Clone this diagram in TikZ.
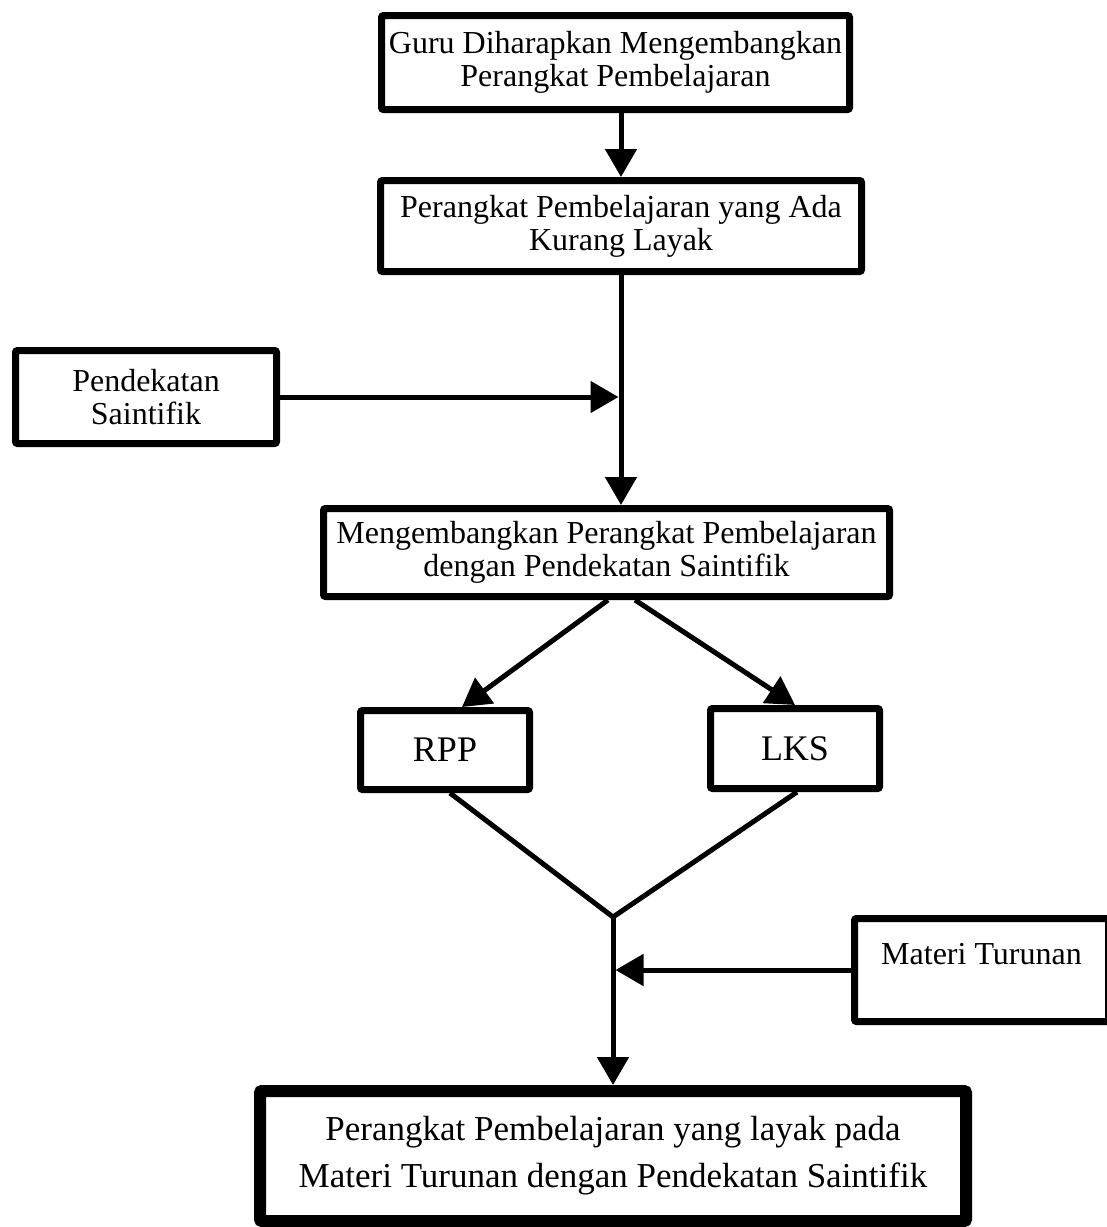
\documentclass[tikz,border=0pt]{standalone}
\usepackage{fontspec}
\setmainfont{Liberation Serif}
\usetikzlibrary{arrows.meta,shadows}

\begin{document}
\begin{tikzpicture}[
  kotak/.style={draw, line width=7pt, rounded corners=2pt, fill=white, align=center, inner sep=0pt,
    drop shadow={shadow xshift=1.5pt, shadow yshift=-3pt, opacity=0.3},
    font=\fontsize{32}{33}\selectfont},
  garis/.style={line width=5pt},
  panah/.style={garis, -{Triangle[length=28pt,width=31pt]}}]
\pgfsetxvec{\pgfpoint{1pt}{0}}
\pgfsetyvec{\pgfpoint{0}{-1pt}}
  \useasboundingbox (0,0) rectangle (1107,1227);
  % kotak-kotak
  \node[kotak, minimum width=468pt, minimum height=94pt] (guru) at (615.5,62.5) {Guru Diharapkan Mengembangkan\\Perangkat Pembelajaran};
  \node[kotak, minimum width=481pt, minimum height=91pt] (kurang) at (621,226) {Perangkat Pembelajaran yang Ada\\Kurang Layak};
  \node[kotak, minimum width=261pt, minimum height=93pt] (pend) at (146,397) {Pendekatan\\Saintifik};
  \node[kotak, minimum width=566pt, minimum height=88pt] (kembang) at (606.5,552.5) {Mengembangkan Perangkat Pembelajaran\\dengan Pendekatan Saintifik};
  \node[kotak, minimum width=169pt, minimum height=79pt, font=\fontsize{36}{36}\selectfont] (rpp) at (445,750) {RPP};
  \node[kotak, minimum width=169pt, minimum height=80pt, font=\fontsize{36}{36}\selectfont] (lks) at (795,748.5) {LKS};
  \node[kotak, minimum width=254pt, minimum height=103pt] (materi) at (981.5,970) {Materi Turunan\\~};
  \node[kotak, line width=12pt, minimum width=706pt, minimum height=130pt,
    font=\fontsize{35}{47}\selectfont] (layak) at (613,1156) {Perangkat Pembelajaran yang layak pada\\Materi Turunan dengan Pendekatan Saintifik};
  \coordinate (join) at (613,917);
  % alur
  \draw[panah] (kurang.north |- guru.south) -- (kurang.north);
  \draw[panah] (kurang.south) -- (kurang.south |- kembang.north);
  \draw[panah] (pend.east) -- ([xshift=-2.5pt]kurang.south |- pend.east);
  \draw[panah] ([xshift=1.5pt]kembang.south) -- ([xshift=17pt]rpp.north);
  \draw[panah] ([xshift=28.5pt]kembang.south) -- (lks.north);
  \draw[garis] ([xshift=5pt]rpp.south) -- (join) -- ([xshift=2pt]lks.south);
  \draw[panah] (join) -- (layak.north);
  \draw[panah] (materi.west) -- ([xshift=2.5pt]join |- materi.west);
\end{tikzpicture}
\end{document}
